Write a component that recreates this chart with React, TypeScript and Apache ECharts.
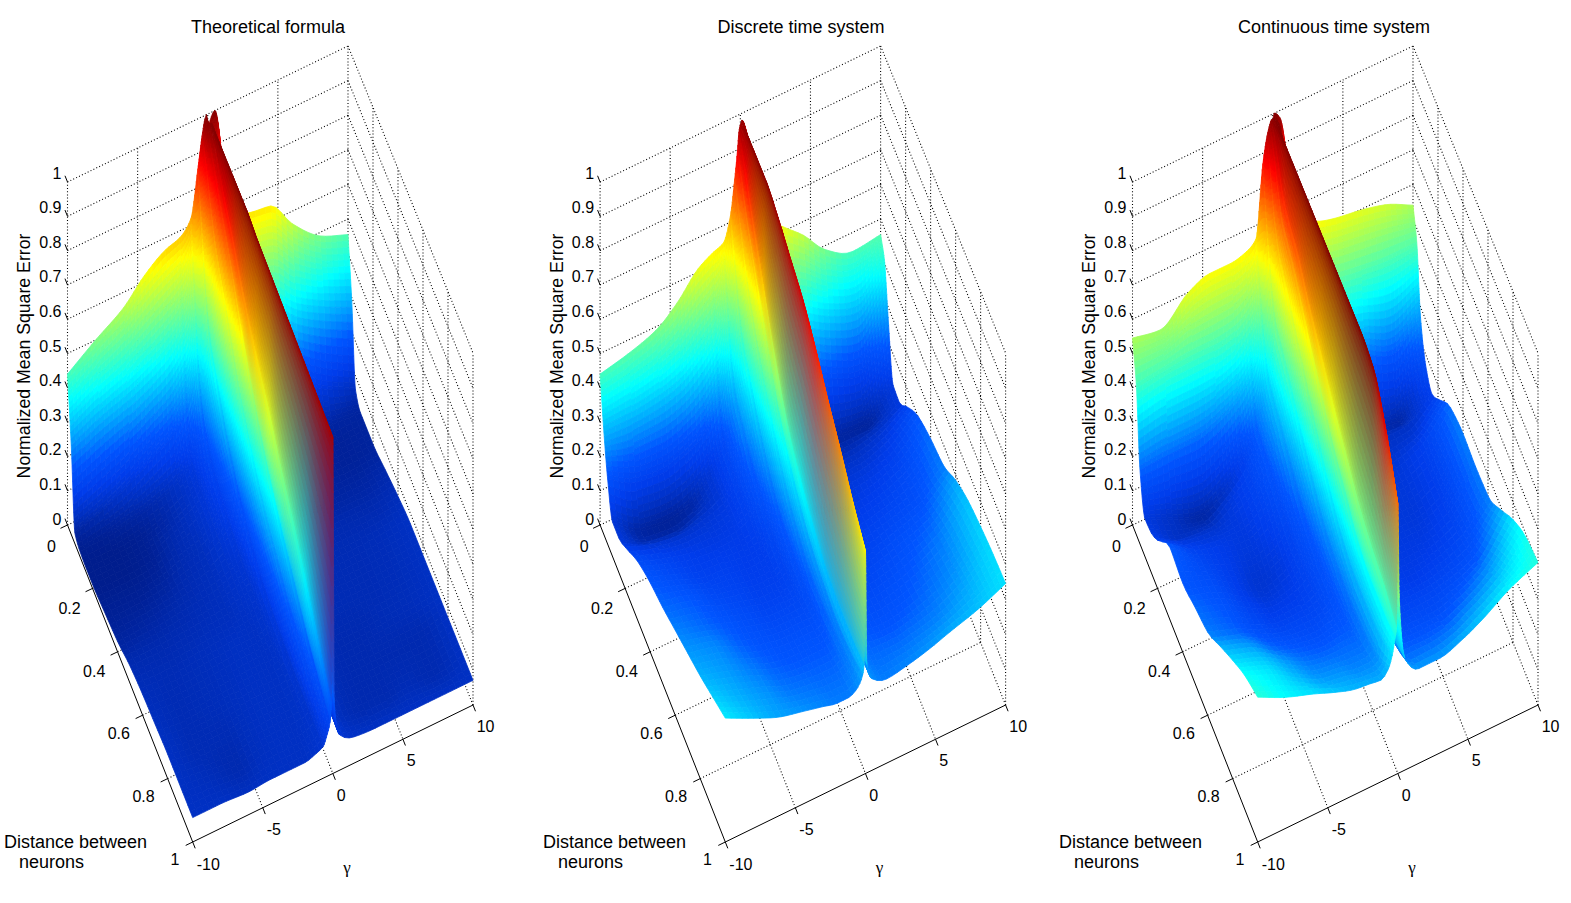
import React, { useEffect, useRef } from 'react';
import * as echarts from 'echarts';

// sample positions of the surfaces, finer near the ridge at gamma = 0
const gammaGrid = [-10, -8, -6, -4.5, -3, -2, -1.2, -0.7, -0.4, -0.2, -0.1, 0, 0.1, 0.5, 1.5, 3, 4.5, 6, 8, 10];
const distGrid = [0, 0.03, 0.06, 0.1, 0.15, 0.2, 0.3, 0.4, 0.5, 0.6, 0.7, 0.8, 0.9, 1];

// one line per gamma, one value per distance
const theoreticalMse = [
  [.44, .26, .03, .015, .012, .012, .02, .03, .05, .06, .065, .07, .07, .07],
  [.50, .30, .06, .02, .012, .012, .02, .035, .05, .055, .055, .055, .06, .07],
  [.555, .33, .10, .035, .02, .02, .03, .045, .055, .06, .06, .055, .05, .065],
  [.62, .36, .14, .05, .04, .045, .05, .055, .06, .065, .065, .065, .065, .07],
  [.665, .40, .18, .08, .07, .07, .065, .065, .065, .07, .07, .07, .07, .07],
  [.68, .45, .24, .12, .10, .10, .09, .08, .075, .07, .07, .07, .07, .07],
  [.72, .54, .35, .23, .18, .15, .12, .095, .085, .08, .075, .075, .075, .08],
  [.855, .71, .56, .44, .38, .32, .23, .17, .13, .11, .10, .09, .085, .09],
  [.945, .89, .82, .73, .66, .60, .47, .38, .31, .26, .21, .18, .14, .12],
  [.99, .97, .93, .88, .82, .76, .63, .52, .43, .36, .30, .24, .19, .15],
  [1, .98, .97, .93, .88, .84, .74, .66, .59, .51, .44, .36, .28, .2],
  [.95, 1, 1, 1, 1, 1, 1, .99, .985, .98, .975, .97, .965, .96],
  [.97, .99, .98, .96, .93, .90, .82, .72, .62, .52, .44, .36, .28, .2],
  [1, .90, .80, .70, .60, .52, .40, .30, .22, .17, .14, .12, .10, .10],
  [.70, .55, .40, .28, .20, .16, .10, .08, .07, .065, .06, .06, .06, .075],
  [.655, .46, .26, .12, .08, .06, .05, .05, .055, .055, .05, .05, .05, .07],
  [.645, .44, .22, .07, .045, .04, .04, .05, .055, .055, .05, .05, .05, .07],
  [.565, .38, .16, .05, .03, .03, .035, .05, .055, .055, .055, .05, .055, .07],
  [.49, .33, .10, .035, .025, .025, .035, .05, .06, .06, .06, .05, .05, .07],
  [.455, .29, .06, .03, .03, .03, .045, .06, .07, .07, .07, .07, .07, .07],
];

const discreteMse = [
  [.44, .30, .19, .10, .10, .12, .17, .20, .22, .245, .27, .295, .325, .355],
  [.46, .30, .14, .035, .05, .09, .14, .17, .20, .22, .25, .27, .29, .315],
  [.49, .31, .13, .025, .04, .08, .12, .14, .165, .19, .21, .235, .26, .28],
  [.54, .33, .15, .04, .06, .09, .115, .135, .15, .17, .19, .21, .235, .265],
  [.61, .38, .19, .10, .10, .11, .12, .125, .135, .155, .18, .20, .225, .25],
  [.635, .43, .26, .17, .16, .15, .14, .13, .135, .155, .18, .20, .22, .24],
  [.65, .52, .38, .29, .26, .23, .19, .16, .15, .16, .18, .20, .22, .24],
  [.72, .63, .53, .44, .39, .34, .26, .21, .19, .18, .19, .21, .23, .25],
  [.82, .76, .69, .61, .54, .48, .38, .30, .25, .22, .22, .23, .24, .265],
  [.90, .85, .79, .73, .66, .60, .47, .38, .32, .28, .26, .25, .26, .285],
  [.95, .91, .87, .81, .74, .67, .54, .44, .38, .34, .31, .30, .30, .31],
  [.97, .985, .99, .99, .99, .99, .97, .94, .91, .86, .80, .745, .685, .635],
  [.98, .98, .97, .95, .90, .85, .75, .65, .58, .50, .45, .40, .35, .31],
  [.93, .85, .75, .65, .55, .47, .36, .28, .25, .24, .24, .25, .25, .26],
  [.68, .55, .40, .28, .20, .17, .14, .14, .15, .16, .18, .20, .22, .24],
  [.615, .44, .25, .12, .10, .10, .11, .12, .135, .15, .17, .19, .22, .25],
  [.56, .40, .21, .07, .06, .075, .10, .12, .14, .16, .18, .20, .23, .265],
  [.49, .36, .17, .035, .05, .07, .105, .13, .155, .18, .20, .22, .245, .285],
  [.445, .33, .14, .03, .06, .09, .13, .16, .18, .21, .24, .26, .285, .31],
  [.455, .41, .27, .11, .105, .14, .20, .225, .24, .285, .315, .33, .34, .345],
];

const continuousMse = [
  [.545, .44, .215, .11, .115, .14, .21, .20, .22, .24, .29, .34, .385, .415],
  [.53, .45, .22, .07, .07, .10, .15, .17, .19, .21, .26, .31, .35, .375],
  [.60, .46, .22, .04, .06, .09, .12, .12, .14, .17, .21, .26, .30, .345],
  [.625, .46, .24, .07, .10, .11, .105, .09, .115, .15, .19, .23, .27, .32],
  [.625, .47, .28, .14, .15, .15, .13, .11, .125, .15, .18, .22, .26, .30],
  [.635, .50, .34, .22, .21, .20, .17, .15, .15, .16, .19, .22, .25, .295],
  [.66, .56, .44, .35, .32, .30, .25, .21, .19, .19, .20, .22, .25, .29],
  [.87, .72, .60, .50, .47, .44, .37, .31, .26, .24, .23, .24, .26, .31],
  [.945, .85, .75, .68, .64, .60, .52, .44, .37, .32, .30, .30, .31, .345],
  [.975, .92, .85, .78, .75, .72, .64, .57, .50, .45, .40, .38, .38, .39],
  [.985, .95, .90, .84, .81, .79, .72, .66, .60, .55, .50, .47, .45, .415],
  [.985, .995, 1, 1, 1, 1, 1, 1, 1, 1, 1, .985, .90, .77],
  [1, 1, .99, .97, .94, .90, .85, .80, .75, .70, .65, .60, .55, .50],
  [.98, .92, .82, .70, .60, .52, .40, .32, .28, .27, .27, .28, .30, .32],
  [.72, .60, .45, .30, .22, .18, .15, .14, .14, .15, .16, .19, .22, .27],
  [.63, .50, .30, .14, .12, .12, .12, .12, .12, .13, .15, .18, .22, .27],
  [.61, .48, .27, .10, .09, .09, .10, .105, .11, .12, .15, .18, .23, .29],
  [.60, .47, .24, .06, .07, .08, .10, .10, .11, .13, .16, .20, .26, .32],
  [.58, .46, .20, .04, .07, .09, .13, .13, .14, .16, .19, .25, .31, .37],
  [.54, .46, .27, .17, .13, .16, .225, .24, .235, .24, .29, .35, .39, .405],
];

const panelTitles = ['Theoretical formula', 'Discrete time system', 'Continuous time system'];
const panelValues = [theoreticalMse, discreteMse, continuousMse];
const panelLeft = [0, 532.6, 1065];
const titleCenter = [263, 796, 1329];
const distanceLabelLeft = [4, 10.4, -6];

const zTicks = [0, 0.1, 0.2, 0.3, 0.4, 0.5, 0.6, 0.7, 0.8, 0.9, 1];
const distTicks = [0, 0.2, 0.4, 0.6, 0.8, 1];
const gammaTicks = [-10, -5, 0, 5, 10];

const FONT = '"Liberation Sans", Arial, sans-serif';
const PANEL_WIDTH = 506;

// screen position of the floor corners, in the coordinates of one panel
const cornerA = [67.5, 525];
const cornerB = [192.7, 842];
const cornerC = [473, 705];
const cornerD = [348, 392];

function project(g: number, d: number, z: number) {
  const u = (g + 10) / 20;
  const bl = (a: number, b: number, c: number, e: number) =>
    a * (1 - u) * (1 - d) + b * (1 - u) * d + c * u * d + e * u * (1 - d);
  const x = bl(cornerA[0], cornerB[0], cornerC[0], cornerD[0]);
  const y = bl(cornerA[1], cornerB[1], cornerC[1], cornerD[1]);
  return [x, y - z * bl(343, 349, 352, 346)];
}

const jetStops: [number, number, number, number][] = [
  [0, 0, 25, 130],
  [0.07, 0, 48, 195],
  [0.125, 0, 60, 235],
  [0.2, 0, 85, 255],
  [0.375, 0, 255, 255],
  [0.625, 255, 255, 0],
  [0.875, 255, 0, 0],
  [1, 128, 0, 0],
];

function jet(z: number) {
  let i = 0;
  while (i < jetStops.length - 2 && z > jetStops[i + 1][0]) i++;
  const a = jetStops[i];
  const b = jetStops[i + 1];
  const t = Math.min(1, Math.max(0, (z - a[0]) / (b[0] - a[0])));
  return [a[1] + (b[1] - a[1]) * t, a[2] + (b[2] - a[2]) * t, a[3] + (b[3] - a[3]) * t];
}

// slopes for a shape preserving curve through the read values, so a cliff does not overshoot
function slopes(xs: number[], ys: number[]) {
  const n = xs.length;
  const del: number[] = [];
  for (let k = 0; k < n - 1; k++) del.push((ys[k + 1] - ys[k]) / (xs[k + 1] - xs[k]));
  const m = new Array(n).fill(0);
  m[0] = del[0];
  m[n - 1] = del[n - 2];
  for (let k = 1; k < n - 1; k++) {
    if (del[k - 1] * del[k] > 0) {
      const h0 = xs[k] - xs[k - 1];
      const h1 = xs[k + 1] - xs[k];
      m[k] = (3 * (h0 + h1)) / ((2 * h1 + h0) / del[k - 1] + (h1 + 2 * h0) / del[k]);
    }
  }
  return m;
}

function hermite(y0: number, y1: number, m0: number, m1: number, h: number, t: number) {
  const t2 = t * t;
  const t3 = t2 * t;
  return (2 * t3 - 3 * t2 + 1) * y0 + (t3 - 2 * t2 + t) * h * m0 + (-2 * t3 + 3 * t2) * y1 + (t3 - t2) * h * m1;
}

function surfaceSeries(values: number[][], idx: number) {
  const columnSlopes = values.map((col) => slopes(distGrid, col));
  const surfaceZ = (i: number, s: number, j: number, t: number) => {
    const h = distGrid[j + 1] - distGrid[j];
    const first = Math.max(0, i - 1);
    const last = Math.min(gammaGrid.length - 1, i + 2);
    const xs: number[] = [];
    const ys: number[] = [];
    for (let k = first; k <= last; k++) {
      xs.push(gammaGrid[k]);
      ys.push(hermite(values[k][j], values[k][j + 1], columnSlopes[k][j], columnSlopes[k][j + 1], h, t));
    }
    const m = slopes(xs, ys);
    const at = i - first;
    return hermite(ys[at], ys[at + 1], m[at], m[at + 1], xs[at + 1] - xs[at], s);
  };
  // back to front for this view: gamma falling, distance rising
  const cells: number[][] = [];
  for (let i = gammaGrid.length - 2; i >= 0; i--) {
    for (let j = 0; j < distGrid.length - 1; j++) cells.push([i, j]);
  }
  return {
    type: 'custom',
    xAxisIndex: idx,
    yAxisIndex: idx,
    data: cells,
    silent: true,
    z: 2,
    progressive: 0,
    renderItem: (_: any, api: any) => {
      const i = api.value(0);
      const j = api.value(1);
      const g0 = gammaGrid[i];
      const g1 = gammaGrid[i + 1];
      const d0 = distGrid[j];
      const d1 = distGrid[j + 1];
      const z00 = values[i][j];
      const z01 = values[i][j + 1];
      const z10 = values[i + 1][j];
      const z11 = values[i + 1][j + 1];
      const len = (a: number[], b: number[]) => Math.hypot(a[0] - b[0], a[1] - b[1]);
      const p00 = project(g0, d0, z00);
      const p01 = project(g0, d1, z01);
      const p10 = project(g1, d0, z10);
      const p11 = project(g1, d1, z11);
      const ng = Math.min(20, Math.max(1, Math.ceil(Math.max(len(p00, p10), len(p01, p11)) / 7)));
      const nd = Math.min(20, Math.max(1, Math.ceil(Math.max(len(p00, p01), len(p10, p11)) / 7)));
      // the narrowest facets blend their corner colours, the wider ones follow the colour map
      const blend = g1 - g0 <= 0.1001;
      const c00 = jet(z00);
      const c01 = jet(z01);
      const c10 = jet(z10);
      const c11 = jet(z11);
      const pts: number[][][] = [];
      for (let a = 0; a <= ng; a++) {
        const row: number[][] = [];
        for (let b = 0; b <= nd; b++) {
          const s = a / ng;
          const t = b / nd;
          row.push(api.coord(project(g0 + (g1 - g0) * s, d0 + (d1 - d0) * t, surfaceZ(i, s, j, t))));
        }
        pts.push(row);
      }
      const children: any[] = [];
      for (let a = 0; a < ng; a++) {
        for (let b = 0; b < nd; b++) {
          const sm = (a + 0.5) / ng;
          const tm = (b + 0.5) / nd;
          let c: number[];
          if (blend) {
            c = [0, 1, 2].map(
              (k) =>
                c00[k] * (1 - sm) * (1 - tm) + c01[k] * (1 - sm) * tm + c10[k] * sm * (1 - tm) + c11[k] * sm * tm,
            );
          } else {
            c = jet(surfaceZ(i, sm, j, tm));
          }
          const color = `rgb(${Math.round(c[0])},${Math.round(c[1])},${Math.round(c[2])})`;
          children.push({
            type: 'polygon',
            shape: { points: [pts[a][b], pts[a][b + 1], pts[a + 1][b + 1], pts[a + 1][b]] },
            style: { fill: color, stroke: color, lineWidth: 0.8 },
          });
        }
      }
      return { type: 'group', children };
    },
  };
}

function frameSeries(idx: number) {
  return {
    type: 'custom',
    xAxisIndex: idx,
    yAxisIndex: idx,
    data: [[0, 0]],
    silent: true,
    z: 1,
    renderItem: (_: any, api: any) => {
      const children: any[] = [];
      const segment = (a: number[], b: number[], dotted: boolean) => {
        const p = api.coord(a);
        const q = api.coord(b);
        children.push({
          type: 'line',
          shape: { x1: p[0], y1: p[1], x2: q[0], y2: q[1] },
          style: { stroke: '#000', lineWidth: dotted ? 1.1 : 1, lineDash: dotted ? [1, 2.2] : undefined },
        });
      };
      const label = (text: string, at: number[], align: string, size = 16, family = FONT) => {
        const p = api.coord(at);
        children.push({
          type: 'text',
          style: { text, x: p[0], y: p[1], fill: '#000', fontSize: size, fontFamily: family, align, verticalAlign: 'middle' },
        });
      };
      // back walls and floor
      zTicks.forEach((z) => {
        segment(project(-10, 0, z), project(10, 0, z), true);
        segment(project(10, 0, z), project(10, 1, z), true);
        segment(project(-10, 0, z), project(-10, -0.02, z), false);
        label(String(z), [61.5, 519 - 346 * z], 'right');
      });
      [[-10, 0], [10, 0], [10, 1]].forEach(([g, d]) => segment(project(g, d, 0), project(g, d, 1), true));
      gammaTicks.slice(1, -1).forEach((g) => {
        segment(project(g, 0, 0), project(g, 0, 1), true);
        segment(project(g, 0, 0), project(g, 1, 0), true);
      });
      distTicks.slice(1, -1).forEach((d) => {
        segment(project(10, d, 0), project(10, d, 1), true);
        segment(project(-10, d, 0), project(10, d, 0), true);
      });
      // solid axes with their ticks and labels
      segment(project(-10, 0, 0), project(-10, 1, 0), false);
      segment(project(-10, 1, 0), project(10, 1, 0), false);
      distTicks.forEach((d) => {
        segment(project(-10, d, 0), project(-10.5, d, 0), false);
        label(String(d), [56 + 123.3 * d, 546 + 313 * d], 'right');
      });
      gammaTicks.forEach((g) => {
        segment(project(g, 1, 0), project(g, 1.02, 0), false);
        label(String(g), [336.7 + 14 * g, 795 - 6.9 * g], 'left');
      });
      const zl = api.coord([24, 356]);
      children.push({
        type: 'text',
        x: zl[0],
        y: zl[1],
        rotation: Math.PI / 2,
        style: { text: 'Normalized Mean Square Error', fill: '#000', fontSize: 17.7, fontFamily: FONT, align: 'center', verticalAlign: 'middle' },
      });
      const left = distanceLabelLeft[idx];
      label('Distance between', [left, 842], 'left', 18);
      label('neurons', [left + 15, 862], 'left', 18);
      label('γ', [347, 867], 'center', 17, '"Liberation Serif", serif');
      return { type: 'group', children };
    },
  };
}

export default function App() {
  const ref = useRef<HTMLDivElement>(null);
  useEffect(() => {
    document.body.style.margin = '0';
    if (ref.current) {
      const chart = echarts.init(ref.current, undefined, { renderer: 'svg' });
      chart.setOption({
        animation: false,
        backgroundColor: '#fff',
        title: panelTitles.map((text, i) => ({
          text,
          left: titleCenter[i],
          top: 13,
          textAlign: 'center',
          textStyle: { color: '#000', fontSize: 18, fontWeight: 'normal', fontFamily: FONT },
        })),
        grid: panelLeft.map((left) => ({ left, top: 0, width: PANEL_WIDTH, height: 903 })),
        xAxis: panelLeft.map((_, i) => ({ type: 'value', gridIndex: i, min: 0, max: PANEL_WIDTH, show: false })),
        yAxis: panelLeft.map((_, i) => ({ type: 'value', gridIndex: i, min: 0, max: 903, inverse: true, show: false })),
        series: panelValues.flatMap((values, i) => [frameSeries(i), surfaceSeries(values, i)]),
      });
      return () => chart.dispose();
    }
  }, []);
  return <div ref={ref} style={{ width: 1571, height: 903 }} />;
}
